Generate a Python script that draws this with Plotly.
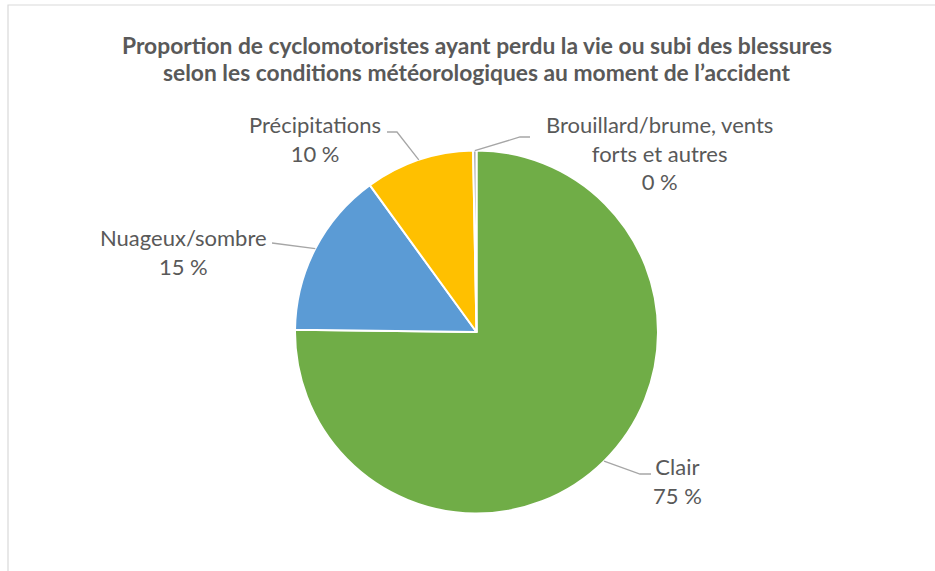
import math
import plotly.graph_objects as go

# ---- data ----
categories = ["Clair", "Nuageux/sombre", "Précipitations",
              "Brouillard/brume, vents forts et autres"]
display_names = ["Clair", "Nuageux/sombre", "Précipitations",
                 "Brouillard/brume, vents<br>forts et autres"]
values = [75.2, 14.8, 9.7, 0.3]
colors = ["#70AD47", "#5B9BD5", "#FFC000", "#A5A5A5"]
title_lines = ["Proportion de cyclomotoristes ayant perdu la vie ou subi des blessures",
               "selon les conditions météorologiques au moment de l’accident"]

# ---- layout (pixels) ----
W, H = 935, 571
cx, cy, R = 476.5, 332.0, 181.5
# label block centres, leader elbow and leader end (pixel coords)
label_pos = [(677, 481), (183, 252), (315, 139), (659, 153)]
elbows = [[(640, 474), (651, 474)],
          [(272, 243)],
          [(397, 132), (387, 132)],
          [(520, 137), (530, 137)]]
title_y = [45, 72]

FONT = "Lato"
GREY = "#595959"


def px(x):
    return x / W


def py(y):
    return 1 - y / H


fig = go.Figure(go.Pie(
    labels=categories, values=values, sort=False, direction="clockwise",
    rotation=0, textinfo="none", showlegend=False,
    marker=dict(colors=colors, line=dict(color="white", width=2)),
    domain=dict(x=[px(cx - R), px(cx + R)], y=[py(cy + R), py(cy - R)]),
))

total = sum(values)
cum = 0.0
shapes = []
annotations = []
for i, v in enumerate(values):
    mid = (cum + v / 2) / total * 2 * math.pi
    cum += v
    ax = cx + R * math.sin(mid)
    ay = cy - R * math.cos(mid)
    pts = [(ax, ay)] + elbows[i]
    path = "M " + " L ".join(f"{px(x):.5f},{py(y):.5f}" for x, y in pts)
    shapes.append(dict(type="path", path=path, xref="paper", yref="paper",
                       line=dict(color="#A6A6A6", width=1.3)))
    pct = f"{round(v)} %"
    lx, ly = label_pos[i]
    annotations.append(dict(
        text=f"{display_names[i]}<br>{pct}", x=px(lx), y=py(ly),
        xref="paper", yref="paper", xanchor="center", yanchor="middle",
        showarrow=False, align="center",
        font=dict(family=FONT, size=22, color=GREY)))

for t, ty in zip(title_lines, title_y):
    annotations.append(dict(
        text=f"<b>{t}</b>", x=px(476.5), y=py(ty), xref="paper", yref="paper",
        xanchor="center", yanchor="middle", showarrow=False, align="center",
        font=dict(family=FONT, size=22.8, color=GREY)))

# chart-area border
shapes.append(dict(type="rect", xref="paper", yref="paper",
                   x0=px(8), x1=px(W + 20), y0=py(H + 20), y1=py(5),
                   line=dict(color="#D9D9D9", width=1.2), fillcolor="rgba(0,0,0,0)"))

fig.update_layout(
    width=W, height=H, margin=dict(l=0, r=0, t=0, b=0),
    paper_bgcolor="white", plot_bgcolor="white",
    shapes=shapes, annotations=annotations,
)

fig.write_html("out.html", config={"displayModeBar": False},
               post_script="document.body.style.margin='0px';document.body.style.overflow='hidden';")
